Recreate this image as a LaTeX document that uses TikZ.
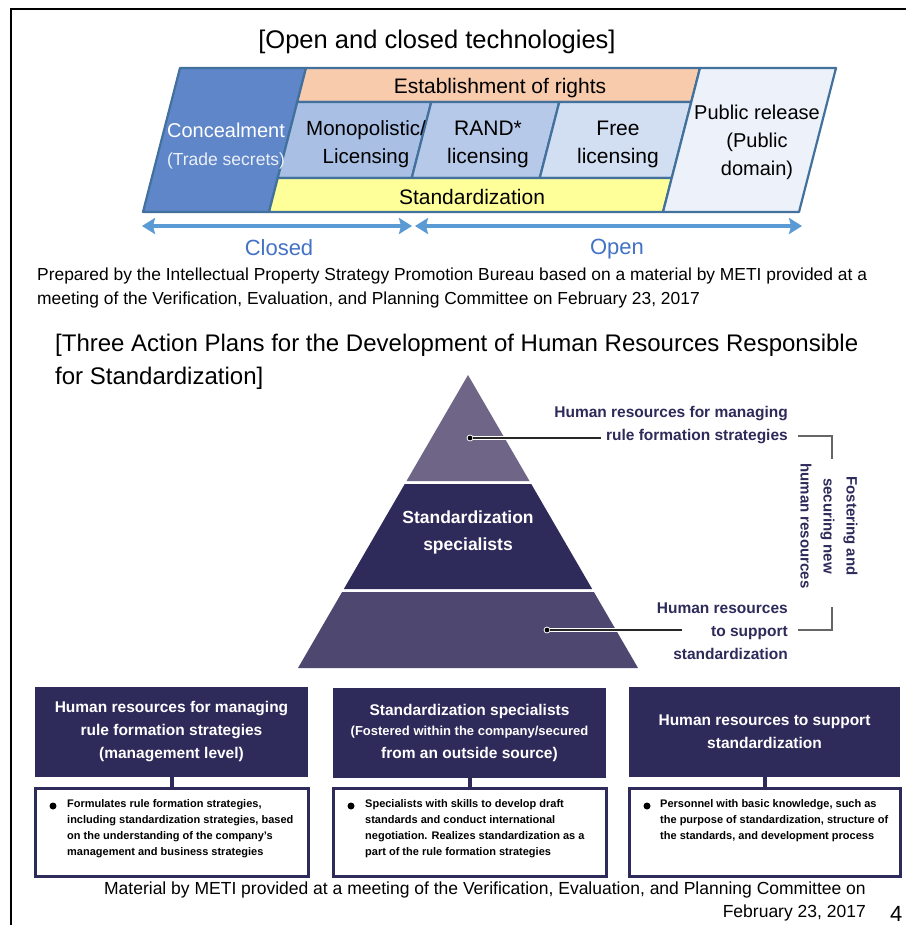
\documentclass[tikz,border=0pt]{standalone}
\usepackage{fontspec}
\setmainfont{Liberation Sans}
\usetikzlibrary{arrows.meta}

\definecolor{edgeblue}{HTML}{41719C}
\definecolor{conceal}{HTML}{5E86C8}
\definecolor{rights}{HTML}{F8CBAD}
\definecolor{mono}{HTML}{A9BFE3}
\definecolor{rand}{HTML}{B7C9E8}
\definecolor{free}{HTML}{D2DEF1}
\definecolor{standard}{HTML}{FFFF99}
\definecolor{public}{HTML}{EDF1F9}
\definecolor{arrowblue}{HTML}{5B9BD5}
\definecolor{labelblue}{HTML}{4472C4}
\definecolor{navy}{HTML}{2E2A5A}
\definecolor{pyrtop}{HTML}{6F6687}
\definecolor{pyrmid}{HTML}{2E2A5A}
\definecolor{pyrlow}{HTML}{4E476F}

\begin{document}
\begin{tikzpicture}[x=1pt,y=-1pt,
    techbox/.style={draw=edgeblue, line width=2.2pt, line join=round},
    techtxt/.style={align=center, font=\fontsize{21}{28}\selectfont},
    sidearrow/.style={arrowblue, line width=4pt, {Stealth[length=13pt,width=16pt,inset=2pt]}-{Stealth[length=13pt,width=16pt,inset=2pt]}},
    pyrlabel/.style={align=right, anchor=east, inner sep=0, text=navy, font=\bfseries\fontsize{15.5}{23}\selectfont},
    pdot/.style={circle, fill=black, draw=white, line width=0.8pt, minimum size=6pt, inner sep=0},
    leader/.style={black!85, line width=1.2pt},
    bracket/.style={black!60, line width=1.5pt},
    headbox/.style={fill=navy, text=white, align=center, minimum height=90pt, font=\bfseries\fontsize{15.5}{23}\selectfont},
    infobox/.style={draw=navy, fill=white, line width=3pt, minimum height=88pt},
    infotxt/.style={anchor=north west, inner sep=0, align=left, font=\bfseries\fontsize{11}{16}\selectfont},
    bul/.style={circle, fill=black, minimum size=7pt, inner sep=0},
    stem/.style={navy, line width=4pt}]

\useasboundingbox (0,0) rectangle (906,925);
\fill[white] (0,0) rectangle (906,925);
\draw[line width=2.5pt] (11,925) -- (11,9) -- (906,9);

\node[font=\fontsize{25.5}{28}\selectfont] (title1) at (437,42) {[Open and closed technologies]};

\foreach \l/\r/\ya/\yb/\col in {180/306/68/212/conceal, 306/700/68/102/rights, 306/440/102/178/mono,
    440/568/102/178/rand, 568/700/102/178/free, 306/700/178/212/standard, 700/836/68/212/public}
  \draw[techbox, fill=\col] ({\l-0.257*(\ya-68)},\ya) -- ({\r-0.257*(\ya-68)},\ya)
    -- ({\r-0.257*(\yb-68)},\yb) -- ({\l-0.257*(\yb-68)},\yb) -- cycle;

\node[techtxt, text=white, font=\fontsize{20}{28}\selectfont] (concealtxt) at (226,146) {Concealment\\{\color{white!88!conceal}\fontsize{17.5}{28}\selectfont(Trade secrets)}};
\node[techtxt] (rightstxt) at (500,88) {Establishment of rights};
\node[techtxt, font=\fontsize{20.5}{28}\selectfont] (monotxt) at (366,144) {Monopolistic/\\Licensing};
\node[techtxt] (randtxt) at (488,144) {RAND*\\licensing};
\node[techtxt] (freetxt) at (618,144) {Free\\licensing};
\node[techtxt] (stdtxt) at (472,197) {Standardization};
\node[techtxt, font=\fontsize{20}{28}\selectfont] (publictxt) at (757,142) {Public release\\(Public\\domain)};

\coordinate (closedL) at (142,226);
\coordinate (closedR) at (412,226);
\coordinate (openL) at (415,226);
\coordinate (openR) at (802,226);
\draw[sidearrow] (closedL) -- (closedR);
\draw[sidearrow] (openL) -- (openR);
\node[text=labelblue, font=\fontsize{22}{26}\selectfont] (closed) at (279,248) {Closed};
\node[text=labelblue, font=\fontsize{22}{26}\selectfont] (open) at (617,249) {Open};

\node[anchor=west, inner sep=0, align=left, font=\fontsize{17.4}{24}\selectfont] (source1) at (37,288)
  {Prepared by the Intellectual Property Strategy Promotion Bureau based on a material by METI provided at a\\
   meeting of the Verification, Evaluation, and Planning Committee on February 23, 2017};

\node[anchor=west, inner sep=0, align=left, font=\fontsize{24}{33}\selectfont] (title2) at (55,361.5)
  {[Three Action Plans for the Development of Human Resources Responsible\\for Standardization]};

\foreach \ya/\yb/\col in {375/481/pyrtop, 484/589/pyrmid, 592/668/pyrlow}
  \fill[\col] ({468-0.5802*(\ya-375)},\ya) -- ({468+0.5802*(\ya-375)},\ya)
    -- ({468+0.5802*(\yb-375)},\yb) -- ({468-0.5802*(\yb-375)},\yb) -- cycle;

\node[text=white, align=center, font=\bfseries\fontsize{17.5}{27}\selectfont] (spec) at (468,532)
  {Standardization\\specialists};

\node[pyrlabel] (toplabel) at (788,425) {Human resources for managing\\rule formation strategies};
\node[pyrlabel] (lowlabel) at (788,631) {Human resources\\to support\\standardization};

\node[pdot] (dtop) at (470,438) {};
\node[pdot] (dlow) at (547,630) {};
\coordinate (etop) at (601,438);
\coordinate (elow) at (682,630);
\draw[white, line width=3.5pt] (dtop) -- (etop);
\draw[leader] (dtop) -- (etop);
\draw[white, line width=3.5pt] (dlow) -- (elow);
\draw[leader] (dlow) -- (elow);

\coordinate (btop) at (798,436);
\coordinate (bcorner1) at (832,436);
\coordinate (bend1) at (832,459);
\coordinate (blow) at (798,630);
\coordinate (bcorner2) at (832,630);
\coordinate (bend2) at (832,607);
\draw[bracket] (btop) -- (bcorner1) -- (bend1);
\draw[bracket] (blow) -- (bcorner2) -- (bend2);

\node[rotate=-90, align=center, text=navy, font=\bfseries\fontsize{15}{23}\selectfont] (foster) at (829,526)
  {Fostering and\\securing new\\human resources};

\node[headbox, minimum width=273pt] (head1) at (171.5,732)
  {Human resources for managing\\rule formation strategies\\(management level)};
\node[headbox, minimum width=273pt] (head2) at (469.5,733)
  {Standardization specialists\\[-3pt]\fontsize{13}{20}\selectfont(Fostered within the company/secured\\from an outside source)};
\node[headbox, minimum width=271pt] (head3) at (764.5,732)
  {Human resources to support\\standardization};

\node[infobox, minimum width=273pt] (info1) at (171.5,832) {};
\node[infobox, minimum width=273pt] (info2) at (469.5,832) {};
\node[infobox, minimum width=271pt] (info3) at (764.5,832) {};
\draw[stem] (head1) -- (info1);
\draw[stem] (head2) -- (info2);
\draw[stem] (head3) -- (info3);

\node[bul] (bul1) at (53,806) {};
\node[bul] (bul2) at (351,806) {};
\node[bul] (bul3) at (647,806) {};
\node[infotxt] (txt1) at (67,799) {Formulates rule formation strategies,\\including standardization strategies, based\\on the understanding of the company’s\\management and business strategies};
\node[infotxt] (txt2) at (365,799) {Specialists with skills to develop draft\\standards and conduct international\\negotiation. Realizes standardization as a\\part of the rule formation strategies};
\node[infotxt] (txt3) at (660,799) {Personnel with basic knowledge, such as\\the purpose of standardization, structure of\\the standards, and development process};

\node[anchor=east, inner sep=0, align=right, font=\fontsize{17.5}{23}\selectfont] (source2) at (866,901.5)
  {Material by METI provided at a meeting of the Verification, Evaluation, and Planning Committee on\\February 23, 2017};
\node[anchor=south west, inner sep=0, font=\fontsize{22}{22}\selectfont] (pagenum) at (890,922) {4};
\end{tikzpicture}
\end{document}
